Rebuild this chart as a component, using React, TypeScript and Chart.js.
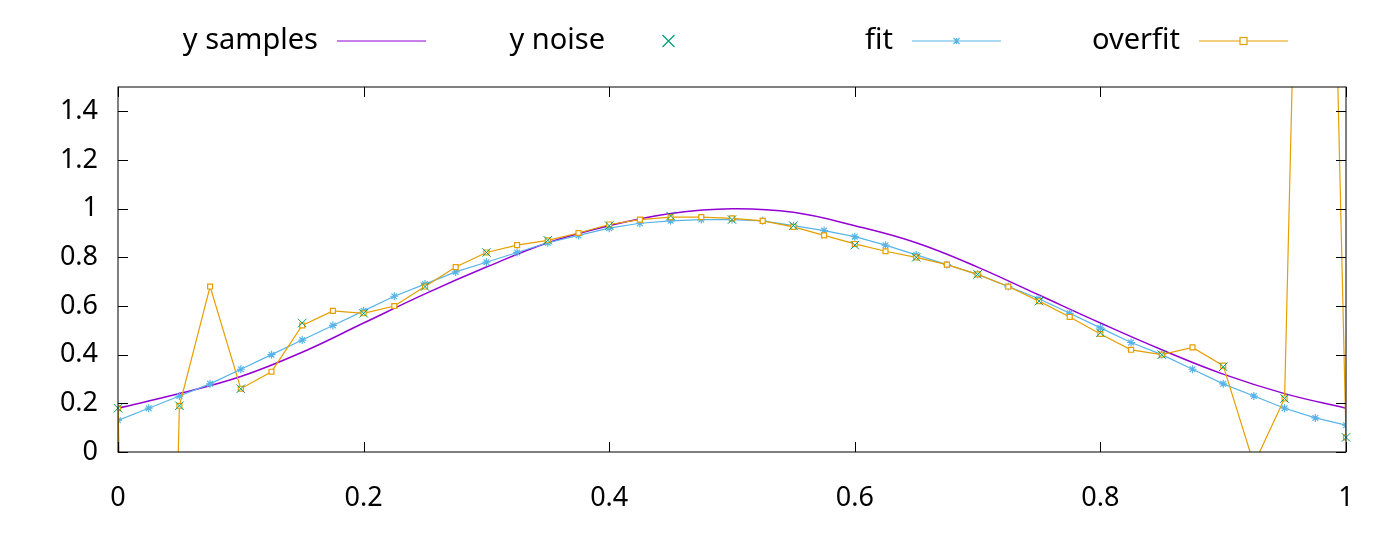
import { useEffect, useRef } from "react"
import { Chart, registerables } from "chart.js"

Chart.register(...registerables)

const sampleX = [0, 0.05, 0.1, 0.15, 0.2, 0.25, 0.3, 0.35, 0.4, 0.45, 0.5, 0.55, 0.6, 0.65, 0.7, 0.75, 0.8, 0.85, 0.9, 0.95, 1]
const ySamples = [0.18, 0.24, 0.31, 0.41, 0.53, 0.65, 0.76, 0.86, 0.93, 0.98, 1.0, 0.985, 0.93, 0.86, 0.76, 0.645, 0.53, 0.42, 0.32, 0.24, 0.18]
const yNoise = [0.18, 0.19, 0.26, 0.53, 0.57, 0.68, 0.82, 0.87, 0.93, 0.97, 0.955, 0.93, 0.85, 0.8, 0.73, 0.62, 0.49, 0.4, 0.35, 0.22, 0.06]

const fineX = [0, 0.025, 0.05, 0.075, 0.1, 0.125, 0.15, 0.175, 0.2, 0.225, 0.25, 0.275, 0.3, 0.325, 0.35, 0.375, 0.4, 0.425, 0.45, 0.475, 0.5, 0.525, 0.55, 0.575, 0.6, 0.625, 0.65, 0.675, 0.7, 0.725, 0.75, 0.775, 0.8, 0.825, 0.85, 0.875, 0.9, 0.925, 0.95, 0.975, 1]
const fitY = [0.13, 0.18, 0.23, 0.28, 0.34, 0.4, 0.46, 0.52, 0.58, 0.64, 0.69, 0.74, 0.78, 0.82, 0.86, 0.89, 0.92, 0.94, 0.95, 0.955, 0.955, 0.95, 0.93, 0.91, 0.885, 0.85, 0.81, 0.77, 0.73, 0.68, 0.63, 0.57, 0.51, 0.45, 0.4, 0.34, 0.28, 0.23, 0.18, 0.14, 0.11]
const overfitY = [0.18, -5, 0.19, 0.68, 0.26, 0.33, 0.52, 0.58, 0.57, 0.6, 0.68, 0.76, 0.82, 0.85, 0.87, 0.9, 0.935, 0.955, 0.965, 0.965, 0.96, 0.95, 0.925, 0.89, 0.855, 0.825, 0.8, 0.77, 0.73, 0.68, 0.62, 0.555, 0.485, 0.42, 0.4, 0.43, 0.355, -0.05, 0.22, 5.5, 0.06]

const xTicks = [0, 0.2, 0.4, 0.6, 0.8, 1]
const yTicks = [0, 0.2, 0.4, 0.6, 0.8, 1, 1.2, 1.4]

const PURPLE = "#9400d3"
const GREEN = "#009e73"
const BLUE = "#56b4e9"
const ORANGE = "#e69f00"
const FONT = "'Noto Sans', sans-serif"

const frame = {
  id: "frame",
  afterDraw(chart: any) {
    const { ctx, chartArea: a, scales } = chart
    ctx.save()
    ctx.strokeStyle = "#000"
    ctx.lineWidth = 1
    ctx.strokeRect(a.left, a.top, a.right - a.left, a.bottom - a.top)
    ctx.beginPath()
    for (const v of xTicks) {
      const px = Math.round(scales.x.getPixelForValue(v)) + 0.5
      ctx.moveTo(px, a.bottom); ctx.lineTo(px, a.bottom - 10)
      ctx.moveTo(px, a.top); ctx.lineTo(px, a.top + 10)
    }
    for (const v of yTicks) {
      const py = Math.round(scales.y.getPixelForValue(v)) + 0.5
      ctx.moveTo(a.left, py); ctx.lineTo(a.left + 10, py)
      ctx.moveTo(a.right, py); ctx.lineTo(a.right - 10, py)
    }
    ctx.stroke()

    // gnuplot-style legend: text then sample
    ctx.font = `29px ${FONT}`
    ctx.textAlign = "right"
    ctx.textBaseline = "middle"
    const y = 41
    const entries = [
      { label: "y samples", end: 318, color: PURPLE, line: true, marker: "" },
      { label: "y noise", end: 605, color: GREEN, line: false, marker: "x" },
      { label: "fit", end: 893, color: BLUE, line: true, marker: "star" },
      { label: "overfit", end: 1180, color: ORANGE, line: true, marker: "sq" },
    ]
    for (const e of entries) {
      ctx.fillStyle = "#000"
      ctx.fillText(e.label, e.end, y)
      const x0 = e.end + 19, x1 = e.end + 108, xm = (x0 + x1) / 2
      ctx.strokeStyle = e.color
      ctx.lineWidth = 1.2
      ctx.beginPath()
      if (e.line) { ctx.moveTo(x0, y); ctx.lineTo(x1, y) }
      if (e.marker === "x") {
        ctx.moveTo(xm - 6, y - 6); ctx.lineTo(xm + 6, y + 6)
        ctx.moveTo(xm + 6, y - 6); ctx.lineTo(xm - 6, y + 6)
      } else if (e.marker === "star") {
        ctx.moveTo(xm - 3, y); ctx.lineTo(xm + 3, y)
        ctx.moveTo(xm, y - 3); ctx.lineTo(xm, y + 3)
        ctx.moveTo(xm - 3, y - 3); ctx.lineTo(xm + 3, y + 3)
        ctx.moveTo(xm + 3, y - 3); ctx.lineTo(xm - 3, y + 3)
      }
      ctx.stroke()
      if (e.marker === "sq") {
        ctx.fillStyle = "#fff"
        ctx.fillRect(xm - 3.5, y - 3.5, 7, 7)
        ctx.strokeRect(xm - 3.5, y - 3.5, 7, 7)
      }
    }
    ctx.restore()
  },
}

export default function App() {
  const ref = useRef<HTMLCanvasElement>(null)

  useEffect(() => {
    document.body.style.margin = "0"
    if (!ref.current) return
    const chart = new Chart(ref.current, {
      type: "line",
      data: {
        datasets: [
          {
            label: "y samples",
            data: sampleX.map((x, i) => ({ x, y: ySamples[i] })),
            borderColor: PURPLE,
            borderWidth: 1.5,
            pointRadius: 0,
            tension: 0.4,
            order: 4,
          },
          {
            label: "y noise",
            data: sampleX.map((x, i) => ({ x, y: yNoise[i] })),
            borderColor: GREEN,
            showLine: false,
            pointStyle: "crossRot",
            pointRadius: 6,
            pointBorderWidth: 1,
            order: 1,
            clip: 8,
          },
          {
            label: "fit",
            data: fineX.map((x, i) => ({ x, y: fitY[i] })),
            borderColor: BLUE,
            borderWidth: 1.2,
            pointStyle: "star",
            pointRadius: 4,
            pointBorderWidth: 1.2,
            order: 3,
          },
          {
            label: "overfit",
            data: fineX.map((x, i) => ({ x, y: overfitY[i] })),
            borderColor: ORANGE,
            backgroundColor: "#fff",
            borderWidth: 1.2,
            pointStyle: "rect",
            pointRadius: 3.5,
            pointBorderWidth: 1.2,
            order: 2,
          },
        ],
      },
      options: {
        responsive: false,
        animation: false,
        layout: { padding: { top: 87, right: 54, left: 0, bottom: 0 } },
        plugins: { legend: { display: false }, tooltip: { enabled: false } },
        scales: {
          x: {
            type: "linear",
            min: 0,
            max: 1,
            afterBuildTicks: (s: any) => { s.ticks = xTicks.map((v) => ({ value: v })) },
            afterFit: (s: any) => { s.height = 88 },
            grid: { display: false },
            border: { display: false },
            ticks: { color: "#000", font: { size: 27, family: FONT }, padding: 22, callback: (v: any) => String(v) },
          },
          y: {
            min: 0,
            max: 1.5,
            afterBuildTicks: (s: any) => { s.ticks = yTicks.map((v) => ({ value: v })) },
            afterFit: (s: any) => { s.width = 118 },
            grid: { display: false },
            border: { display: false },
            ticks: { color: "#000", font: { size: 27, family: FONT }, padding: 12, callback: (v: any) => String(v) },
          },
        },
      },
      plugins: [frame],
    })
    return () => chart.destroy()
  }, [])

  return <canvas ref={ref} width={1400} height={540} style={{ display: "block" }} />
}
